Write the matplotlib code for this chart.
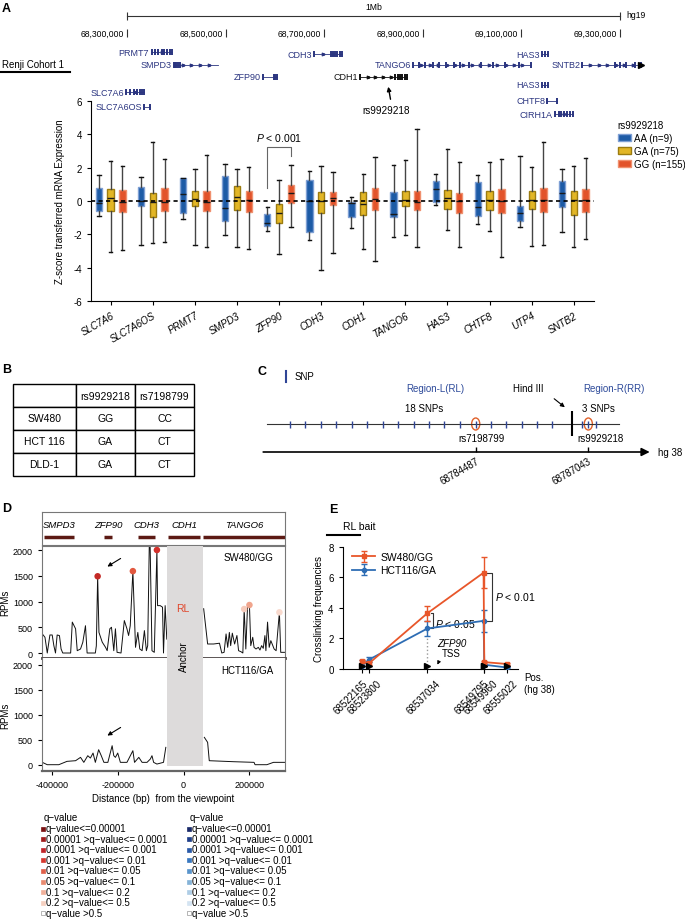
import matplotlib
matplotlib.use('Agg')
import matplotlib.pyplot as plt
import matplotlib.transforms as mtransforms
import numpy as np
from matplotlib.patches import Patch, Ellipse, Rectangle

plt.rcParams['font.family'] = ['Liberation Sans', 'DejaVu Sans']
plt.rcParams['mathtext.fontset'] = 'custom'
plt.rcParams['mathtext.rm'] = 'Liberation Sans'
plt.rcParams['mathtext.it'] = 'Liberation Sans:italic'
plt.rcParams['axes.unicode_minus'] = False
plt.rcParams['xtick.major.size'] = 3
plt.rcParams['ytick.major.size'] = 3

# ======================= DATA =======================
# --- A: gene track (hg19) ---
track_genes = ['PRMT7', 'SMPD3', 'ZFP90', 'SLC7A6', 'SLC7A6OS', 'CDH3', 'CDH1',
               'TANGO6', 'HAS3', 'SNTB2', 'HAS3', 'CHTF8', 'CIRH1A']
track_start = [68348000, 68395000, 68576000, 68298000, 68335000, 68679000, 68772000,
               68880000, 69142000, 69223000, 69142000, 69152000, 69168000]
track_end = [68392000, 68484000, 68605000, 68335000, 68346000, 68736000, 68868000,
             69119000, 69154000, 69343000, 69154000, 69172000, 69205000]
track_row = [53, 66, 78, 93, 108, 55, 78, 66, 55, 66, 86, 102, 115]
track_color = ['#2b3580'] * 6 + ['#111111'] + ['#2b3580'] * 6
exon_frac = {
    'PRMT7': [0.05, 0.2, 0.35, 0.5, 0.62, 0.75, 0.88, 0.97],
    'SMPD3': [0.0, 0.03, 0.06, 0.1, 0.14],
    'ZFP90': [0.0, 0.75, 0.85, 0.95],
    'SLC7A6': [0.0, 0.2, 0.45, 0.6, 0.75, 0.88, 0.97],
    'SLC7A6OS': [0.0, 1.0],
    'CDH3': [0.0, 0.6, 0.68, 0.76, 0.84, 0.92, 1.0],
    'CDH1': [0.0, 0.75, 0.8, 0.85, 0.9, 0.95, 1.0],
    'TANGO6': [0.0, 0.05, 0.1, 0.17, 0.22, 0.28, 0.35, 0.4, 0.48, 0.58, 0.68, 0.78, 0.9, 1.0],
    'HAS3': [0.0, 0.5, 1.0],
    'SNTB2': [0.0, 0.55, 0.65, 0.75, 0.9, 1.0],
    'CHTF8': [0.0, 1.0],
    'CIRH1A': [0.0, 0.2, 0.35, 0.5, 0.65, 0.8, 1.0],
}
coord_ticks = [68300000, 68500000, 68700000, 68900000, 69100000, 69300000]
rs9929218_hg19 = 68820946

# --- A: boxplots (Z-score) ---
box_genes = ['SLC7A6', 'SLC7A6OS', 'PRMT7', 'SMPD3', 'ZFP90', 'CDH3', 'CDH1',
             'TANGO6', 'HAS3', 'CHTF8', 'UTP4', 'SNTB2']
aa_lo = [-0.9, -2.64, -1.1, -2.06, -1.8, -2.34, -1.62, -2.14, -0.26, -1.38, -1.54, -1.88]
aa_q1 = [-0.58, -0.3, -0.7, -1.22, -1.5, -1.86, -0.96, -0.94, -0.06, -0.88, -1.2, -0.38]
aa_med = [-0.1, 0.0, 0.44, -0.44, -1.3, 0.0, -0.14, -0.8, 0.7, -0.36, -0.7, 0.5]
aa_q3 = [0.78, 0.84, 1.36, 1.5, -0.8, 1.26, -0.04, 0.52, 1.2, 1.14, -0.32, 1.18]
aa_hi = [1.54, 1.44, 1.4, 2.22, -0.34, 1.82, 0.24, 2.18, 1.6, 1.58, 2.7, 1.9]

ga_lo = [-3.04, -2.5, -2.64, -2.78, -3.2, -4.16, -2.86, -2.04, -1.74, -1.8, -2.7, -2.76]
ga_q1 = [-0.62, -0.94, -0.32, -0.54, -1.3, -0.7, -0.86, -0.32, -0.5, -0.54, -0.5, -0.82]
ga_med = [0.2, -0.04, 0.1, 0.26, -0.7, 0.0, -0.2, 0.08, 0.2, 0.06, 0.06, 0.04]
ga_q3 = [0.74, 0.48, 0.6, 0.88, -0.16, 0.54, 0.54, 0.62, 0.68, 0.62, 0.62, 0.62]
ga_hi = [2.4, 3.54, 1.9, 1.9, 1.24, 2.1, 1.64, 2.46, 3.14, 2.34, 2.02, 2.1]

gg_lo = [-2.94, -2.48, -2.74, -2.86, -1.58, -3.1, -3.62, -2.74, -2.74, -3.38, -2.66, -2.3]
gg_q1 = [-0.66, -0.6, -0.6, -0.66, -0.1, -0.26, -0.52, -0.56, -0.7, -0.7, -0.66, -0.66]
gg_med = [-0.04, -0.04, -0.06, 0.04, 0.5, 0.2, 0.14, -0.06, 0.0, 0.02, 0.04, 0.04]
gg_q3 = [0.64, 0.78, 0.58, 0.6, 0.94, 0.56, 0.78, 0.58, 0.5, 0.74, 0.76, 0.7]
gg_hi = [2.1, 2.5, 2.74, 2.06, 2.14, 1.74, 2.64, 4.34, 2.34, 2.54, 3.56, 2.56]

genotype_labels = ['AA (n=9)', 'GA (n=75)', 'GG (n=155)']

# --- B: genotype table ---
cell_lines = ['SW480', 'HCT 116', 'DLD-1']
snp_cols = ['rs9929218', 'rs7198799']
gt_rs9929218 = ['GG', 'GA', 'GA']
gt_rs7198799 = ['CC', 'CT', 'CT']

# --- C: SNP map (hg38) ---
snp_pos = [68780272, 68780619, 68780968, 68781323, 68781672, 68782020, 68782376,
           68782723, 68783080, 68783427, 68783774, 68784131, 68784487, 68784828,
           68785182, 68785531, 68785879, 68786226,
           68786893, 68787043, 68787211]
hind3_pos = 68786666
rs7198799_pos = 68784487
rs9929218_pos = 68787043

# --- D: 4C-seq tracks (distance in kb from viewpoint, RPMs) ---
sw_dist_kb = [-429, -421, -414, -406, -399, -394, -389, -384, -377, -372, -367, -359, -343,
              -338, -328, -323, -313, -306, -298, -293, -268, -265, -261, -257, -247, -237,
              -232, -224, -219, -212, -207, -202, -190, -180, -172, -167, -162, -154, -146,
              -139, -133, -126, -119, -113, -109, -103, -96, -89, -81, -79, -71, -64, -61,
              -56, -51,
              61, 73, 91, 109, 116, 123, 129, 134, 139, 143, 148, 155, 162, 167, 174, 180,
              184, 189, 194, 200, 204, 210, 214, 220, 227, 232, 237, 242, 247, 250, 255,
              260, 265, 271, 275, 281, 291, 295, 308]
sw_rpm = [370, 305, 0, 350, 350, 143, 0, 350, 338, 78, 0, 0, 0,
          600, 470, 45, 78, 210, 530, 0, 0, 140, 1490, 400, 210, 110,
          45, 470, 500, 45, 470, 13, 0, 630, 470, 340, 530, 1590, 110,
          400, 78, 45, 435, 45, 143, 2600, 45, 13, 2000, 920, 920, 890, 0,
          920, 270,
          860, 175, 175, 190, 0, 13, 370, 110, 400, 143, 385, 175, 340, 45, 26, 0,
          854, 78, 870, 932, 143, 305, 110, 78, 110, 58, 143, 91, 338, 45, 600,
          110, 240, 143, 78, 45, 790, 13, 13]
hct_dist_kb = [-429, -414, -379, -354, -328, -313, -303, -291, -283, -275, -268, -258, -250,
               -242, -230, -217, -212, -207, -200, -192, -172, -154, -149, -136, -126, -111,
               -101, -96, -91, -81, -61, -54,
               63, 73, 78, 152, 214, 217, 253, 273, 308]
hct_rpm = [47, 0, 0, 67, 80, 147, 47, 180, 133, 233, 47, 300, 180,
           47, 47, 380, 180, 147, 233, 47, 47, 280, 47, 147, 47, 47,
           113, 180, 47, 13, 47, 347,
           547, 447, 80, 60, 47, 0, 0, 47, 47]
peak_dist_kb = [-261, -154, -81, 184, 200, 291]
peak_rpm = [1490, 1590, 2000, 854, 932, 790]
peak_color = ['#c42a26', '#e2583f', '#d3302b', '#f6cbbb', '#f0a58d', '#f8d9cd']
anchor_kb = [-50, 58]
dgene_names = ['SMPD3', 'ZFP90', 'CDH3', 'CDH1', 'TANGO6']
dgene_start_kb = [-425, -243, -137, -46, 60]
dgene_end_kb = [-334, -216, -86, 51, 308]
q_labels = ['q\u2212value<=0.00001', '0.00001 >q\u2212value<= 0.0001',
            '0.0001 >q\u2212value<= 0.001', '0.001 >q\u2212value<= 0.01',
            '0.01 >q\u2212value<= 0.05', '0.05 >q\u2212value<= 0.1',
            '0.1 >q\u2212value<= 0.2', '0.2 >q\u2212value<= 0.5', 'q\u2212value >0.5']
q_reds = ['#7a1212', '#a01c1c', '#c0262a', '#d63a30', '#e0604a', '#e88a70',
          '#f0b09a', '#f5d0c0', '#ffffff']
q_blues = ['#1a2a6a', '#1f3f8a', '#2a5aa8', '#3a78c0', '#5a95cc', '#85b3d8',
           '#aecde6', '#d4e4f2', '#ffffff']

# --- E: 3C-qPCR crosslinking frequencies ---
e_pos = [68522165, 68523800, 68537034, 68549795, 68549960, 68555022]
sw_freq = [0.5, 0.38, 3.65, 6.3, 0.45, 0.33]
sw_err = [0.12, 0.1, 0.5, 1.0, 0.08, 0.05]
hct_freq = [0.22, 0.62, 2.65, 3.15, 0.28, 0.1]
hct_err = [0.35, 0.15, 0.5, 0.7, 0.05, 0.05]

# ======================= FIGURE =======================
W, H = 685.0, 920.0
fig = plt.figure(figsize=(6.85, 9.2), dpi=100)


def px_axes(x0, y0, x1, y1):
    return fig.add_axes([x0 / W, 1 - y1 / H, (x1 - x0) / W, (y1 - y0) / H])


# ---------------- A: boxplot (added first so the track can overlap it) ----------------
axA = px_axes(91, 102, 594, 302)
axA.set_facecolor('none')
xpos = np.arange(len(box_genes))
groups = [(aa_lo, aa_q1, aa_med, aa_q3, aa_hi),
          (ga_lo, ga_q1, ga_med, ga_q3, ga_hi),
          (gg_lo, gg_q1, gg_med, gg_q3, gg_hi)]
faces = ['#1d5ba6', '#e2b626', '#e2532a']
edges = ['#7e9fd4', '#9c7c10', '#f0906e']
offsets = [-0.28, 0.0, 0.28]
for gi, (lo, q1, med, q3, hi) in enumerate(groups):
    stats = [dict(whislo=lo[i], q1=q1[i], med=med[i], q3=q3[i], whishi=hi[i], fliers=[])
             for i in range(len(box_genes))]
    axA.bxp(stats, positions=xpos + offsets[gi], widths=0.15, showfliers=False,
            patch_artist=True, manage_ticks=False, capwidths=0.08,
            boxprops=dict(facecolor=faces[gi], edgecolor=edges[gi], linewidth=1),
            medianprops=dict(color='#1a1a1a', linewidth=1),
            whiskerprops=dict(color='#444444', linewidth=1),
            capprops=dict(color='#111111', linewidth=1))
axA.axhline(0, color='k', ls=(0, (2.5, 2)), lw=1.2, zorder=5)
axA.set_xlim(-0.466, 11.48)
axA.set_ylim(-6, 6)
axA.set_yticks(range(-6, 7, 2))
axA.set_xticks(xpos)
axA.set_xticklabels(box_genes, rotation=30, ha='right', rotation_mode='anchor',
                    fontstyle='italic', fontsize=7)
axA.tick_params(axis='y', labelsize=7)
axA.spines['top'].set_visible(False)
axA.spines['right'].set_visible(False)
axA.set_ylabel('Z-score transferred mRNA Expression', fontsize=7, labelpad=6)
axA.plot([4 - 0.28, 4 - 0.28, 4 + 0.28, 4 + 0.28], [0.8, 3.26, 3.26, 2.7], color='#666', lw=0.8)
axA.text(4, 3.45, '$P$ < 0.001', ha='center', va='bottom', fontsize=7.5)
handles = [Patch(facecolor=f, edgecolor=e, linewidth=1) for f, e in zip(faces, edges)]
fig.legend(handles, genotype_labels, title='rs9929218', loc='upper left',
           bbox_to_anchor=(613 / W, 1 - 116 / H), frameon=False, fontsize=7,
           title_fontsize=7, handlelength=1.4, handleheight=0.8, labelspacing=0.3,
           handletextpad=0.3, alignment='left', borderpad=0)

# ---------------- A: gene track ----------------
def gx(px):
    return 68300000 + (px - 127) * 2028.4


axG = px_axes(0, 0, W, 125)
axG.set_xlim(gx(0), gx(W))
axG.set_ylim(125, 0)
axG.axis('off')
axG.plot([coord_ticks[0], coord_ticks[0] + 1000000], [17, 17], color='#333', lw=0.8)
axG.vlines([coord_ticks[0], coord_ticks[0] + 1000000], 13, 21, color='#333', lw=0.8)
axG.text(coord_ticks[0] + 500000, 8, '1Mb', ha='center', va='center', fontsize=6.2)
axG.text(gx(626), 15, 'hg19', ha='left', va='center', fontsize=6.2)
for c in coord_ticks:
    axG.vlines(c, 30, 38, color='#333', lw=0.8)
    axG.text(c - 6000, 34.5, f'{c:,}', ha='right', va='center', fontsize=6.2)
for name, s, e, row, col in zip(track_genes, track_start, track_end, track_row, track_color):
    axG.plot([s, e], [row, row], color=col, lw=0.6)
    ex = [s + f * (e - s) for f in exon_frac[name]]
    axG.vlines(ex, row - 3, row + 3, color=col, lw=1.4)
    n = int((e - s) / 16000)
    if n > 1:
        chev = np.linspace(s, e, n + 1)[1:-1]
        axG.plot(chev, [row] * len(chev), ls='none', marker=r'$>$', ms=1.8, color=col)
    if name == 'SNTB2':
        axG.plot([e], [row], marker='>', ms=4, color='k')
    axG.text(s - 4000, row, name, ha='right', va='center', fontsize=6.5, color=col)
axG.annotate('', xy=(rs9929218_hg19 + 8000, 85), xytext=(gx(391), 103),
             arrowprops=dict(arrowstyle='-|>', lw=1, color='k', mutation_scale=6))
axG.text(gx(386), 111, 'rs9929218', ha='center', va='center', fontsize=7.2)

# ---------------- B: table ----------------
axB = px_axes(13, 385, 194, 477)
axB.axis('off')
cell_text = [[''] + snp_cols] + [[cl, a, b] for cl, a, b in zip(cell_lines, gt_rs9929218, gt_rs7198799)]
tb = axB.table(cellText=cell_text, cellLoc='center', bbox=[0, 0, 1, 1], colWidths=[63, 59, 59])
tb.auto_set_font_size(False)
tb.set_fontsize(7.5)
for cell in tb.get_celld().values():
    cell.set_linewidth(1.0)

# ---------------- C: SNP map ----------------
axC = px_axes(255, 365, 685, 500)
axC.set_xlim(68779477, 68789238)
axC.set_ylim(500, 365)
axC.axis('off')
axC.plot([68779754, 68787740], [425, 425], color='#333', lw=0.8)
axC.vlines(snp_pos, 421.5, 428.5, color='#2f4596', lw=1)
axC.vlines(hind3_pos, 412, 437, color='k', lw=1.5)
for p in (rs7198799_pos, rs9929218_pos):
    axC.add_patch(Ellipse((p, 425), 185, 12, fill=False, edgecolor='#e0602a', lw=1))
axC.annotate('', xy=(68788500, 453), xytext=(68779600, 453),
             arrowprops=dict(arrowstyle='-|>', color='k', lw=1.2, mutation_scale=12))
axC.vlines([rs7198799_pos, rs9929218_pos], 448, 453, color='k', lw=1)
for p in (rs7198799_pos, rs9929218_pos):
    axC.text(p, 457, str(p), rotation=30, ha='right', va='top', rotation_mode='anchor', fontsize=7)

# ---------------- D: 4C tracks ----------------
xl = (-430000, 308000)
axDg = px_axes(42, 513, 285, 546)
axDg.set_xlim(*xl)
axDg.set_ylim(0, 1)
axDg.set_xticks([])
axDg.set_yticks([])
for sp in axDg.spines.values():
    sp.set_color('#777')
for nm, s, e in zip(dgene_names, dgene_start_kb, dgene_end_kb):
    axDg.plot([s * 1000, e * 1000], [0.24, 0.24], color='#5c1a14', lw=2.5, solid_capstyle='butt')
    axDg.text((s + e) / 2 * 1000, 0.62, nm, ha='center', va='center', fontsize=6.8,
              fontstyle='italic')

axD1 = px_axes(42, 547, 285, 659)
axD1.set_xlim(*xl)
axD1.set_ylim(-97, 2078)
axD1.plot(np.array(sw_dist_kb[:55]) * 1000, sw_rpm[:55], color='#111', lw=0.7)
axD1.plot(np.array(sw_dist_kb[55:]) * 1000, sw_rpm[55:], color='#111', lw=0.7)
axD1.scatter(np.array(peak_dist_kb) * 1000, peak_rpm, s=22, c=peak_color, zorder=6,
             clip_on=False, linewidths=0)
axD1.axvspan(anchor_kb[0] * 1000, anchor_kb[1] * 1000, color='#dddbdb', zorder=5, lw=0)
axD1.set_yticks([0, 500, 1000, 1500, 2000])
axD1.set_xticks([])
axD1.tick_params(axis='y', labelsize=6.5, length=3)
for sp in axD1.spines.values():
    sp.set_color('#777')
axD1.spines['bottom'].set_color('#4d4545')
axD1.spines['bottom'].set_linewidth(2)
axD1.set_ylabel('RPMs', fontsize=7, labelpad=2)

axD2 = px_axes(42, 659, 285, 772)
axD2.set_xlim(*xl)
axD2.set_ylim(-126, 2134)
axD2.plot(np.array(hct_dist_kb[:32]) * 1000, hct_rpm[:32], color='#111', lw=0.7)
axD2.plot(np.array(hct_dist_kb[32:]) * 1000, hct_rpm[32:], color='#111', lw=0.7)
axD2.add_patch(Rectangle((anchor_kb[0] * 1000, -30), (anchor_kb[1] - anchor_kb[0]) * 1000, 2300,
                         color='#dddbdb', zorder=5, lw=0))
axD2.set_yticks([0, 500, 1000, 1500, 2000])
axD2.set_xticks([-400000, -200000, 0, 200000])
axD2.set_xticklabels(['-400000', '-200000', '0', '200000'])
axD2.tick_params(labelsize=6.5, length=3)
axD2.spines['top'].set_visible(False)
for sp in ('left', 'right'):
    axD2.spines[sp].set_color('#777')
axD2.spines['bottom'].set_color('#666')
axD2.spines['bottom'].set_linewidth(1.6)
axD2.set_ylabel('RPMs', fontsize=7, labelpad=2)
axD2.set_xlabel('Distance (bp)  from the viewpoint', fontsize=7, labelpad=3)

# ---------------- E: crosslinking ----------------
axE = px_axes(342.7, 547.7, 518, 670)
axE.set_xlim(68517779, 68557620)
axE.set_ylim(0, 8)
axE.vlines(e_pos[2], 0, hct_freq[2], colors='#999', linestyles=':', lw=1)
axE.errorbar(e_pos, hct_freq, yerr=hct_err, color='#2e6db4', marker='o', ms=3, lw=1.3,
             capsize=2, elinewidth=1, label='HCT116/GA', zorder=3)
axE.errorbar(e_pos, sw_freq, yerr=sw_err, color='#e8562a', marker='s', ms=3, lw=1.3,
             capsize=2, elinewidth=1, label='SW480/GG', zorder=4)
axE.plot(e_pos, [0.028] * len(e_pos), transform=axE.get_xaxis_transform(), ls='none',
         marker='>', ms=4.5, color='k', clip_on=False, zorder=6)
h, l = axE.get_legend_handles_labels()
axE.legend(h[::-1], l[::-1], loc='upper left', bbox_to_anchor=(0.03, 0.99), frameon=False,
           fontsize=7.5, handlelength=2.2, borderaxespad=0, labelspacing=0.3, handletextpad=0.5)
bx1 = e_pos[2] + 1300
axE.plot([bx1 - 500, bx1, bx1, bx1 - 500], [sw_freq[2], sw_freq[2], hct_freq[2], hct_freq[2]],
         color='#333', lw=0.8)
axE.text(bx1 + 400, 3.0, '$P$ < 0.05', fontsize=7.5, va='center', ha='left')
bx2 = e_pos[3] + 1900
axE.plot([e_pos[3] + 300, bx2, bx2, e_pos[3] + 300], [sw_freq[3], sw_freq[3], hct_freq[3], hct_freq[3]],
         color='#333', lw=0.8)
axE.text(bx2 + 800, 4.75, '$P$ < 0.01', fontsize=7.5, va='center', ha='left')
axE.text(e_pos[2] + 5500, 1.7, 'ZFP90', fontstyle='italic', fontsize=7, ha='center', va='center')
axE.text(e_pos[2] + 5500, 1.05, 'TSS', fontsize=7, ha='center', va='center')
axE.annotate('', xy=(e_pos[2] + 2000, 0.12), xytext=(e_pos[2] + 2700, 0.55),
             arrowprops=dict(arrowstyle='-|>', lw=0.7, color='k', mutation_scale=5))
axE.set_xticks(e_pos)
axE.set_xticklabels([str(p) for p in e_pos], rotation=45, ha='right', va='top',
                    rotation_mode='anchor', fontsize=7)
label_shift_px = [0, 7, 8, 0, 8, 6]
for lab, dx in zip(axE.get_xticklabels(), label_shift_px):
    lab.set_transform(lab.get_transform() +
                      mtransforms.ScaledTranslation(dx / 100, 0, fig.dpi_scale_trans))
axE.set_yticks([0, 2, 4, 6, 8])
axE.tick_params(axis='y', labelsize=7)
axE.spines['top'].set_visible(False)
axE.spines['right'].set_visible(False)
axE.set_ylabel('Crosslinking frequencies', fontsize=7, labelpad=3)

# ---------------- overlay (labels in pixel coordinates) ----------------
ov = fig.add_axes([0, 0, 1, 1])
ov.set_xlim(0, W)
ov.set_ylim(H, 0)
ov.axis('off')
bold = dict(fontsize=9, fontweight='bold', va='center', ha='left')
ov.text(2, 9, 'A', **bold)
ov.text(2, 370, 'B', **bold)
ov.text(258, 372, 'C', **bold)
ov.text(2, 509, 'D', **bold)
ov.text(329, 510, 'E', **bold)
ov.text(2, 65, 'Renji Cohort 1', fontsize=7, va='center')
ov.plot([0, 70], [73, 73], color='k', lw=1.5)
ov.plot([286, 286], [372, 383], color='#2f4596', lw=1.5)
ov.text(295, 377, 'SNP', fontsize=7, va='center')
ov.text(435, 389, 'Region-L(RL)', color='#2d4a9a', fontsize=7, ha='center', va='center')
ov.text(528, 389, 'Hind III', fontsize=7, ha='center', va='center')
ov.text(614, 389, 'Region-R(RR)', color='#2d4a9a', fontsize=7, ha='center', va='center')
ov.text(424, 409, '18 SNPs', fontsize=7, ha='center', va='center')
ov.text(598, 409, '3 SNPs', fontsize=7, ha='center', va='center')
ov.text(482, 439, 'rs7198799', fontsize=7, ha='center', va='center')
ov.text(601, 439, 'rs9929218', fontsize=7, ha='center', va='center')
ov.text(658, 453, 'hg 38', fontsize=7, ha='left', va='center')
ov.annotate('', xy=(567, 410), xytext=(552, 398),
            arrowprops=dict(arrowstyle='-|>', lw=0.8, color='k', mutation_scale=6))
ov.text(249, 558, 'SW480/GG', fontsize=7, ha='center', va='center')
ov.text(247, 671, 'HCT116/GA', fontsize=7, ha='center', va='center')
ov.text(183, 609, 'RL', fontsize=7.5, color='#e0452a', ha='center', va='center')
ov.text(184, 657, 'Anchor', fontsize=7, rotation=90, ha='center', va='center')
for y0 in (558, 727):
    ov.annotate('', xy=(105, y0 + 11), xytext=(123, y0),
                arrowprops=dict(arrowstyle='-|>', lw=0.8, color='k', mutation_scale=6))
for x0, cols in ((42, q_reds), (188, q_blues)):
    ov.text(x0 + 2, 818, 'q\u2212value', fontsize=7, va='center')
    for i, (lab, col) in enumerate(zip(q_labels, cols)):
        y = 829 + i * 10.6
        ov.plot([x0 + 1], [y + 0.5], marker='s', ms=2.2, color=col,
                mec='#999' if col == '#ffffff' else col, mew=0.5)
        ov.text(x0 + 4, y, lab, fontsize=7, va='center')
ov.text(343, 527, 'RL bait', fontsize=7.5, va='center')
ov.plot([327, 360], [536, 536], color='k', lw=1.5)
ov.text(524, 678, 'Pos.', fontsize=7, va='center')
ov.text(524, 690, '(hg 38)', fontsize=7, va='center')

fig.savefig('out.png', dpi=100)
